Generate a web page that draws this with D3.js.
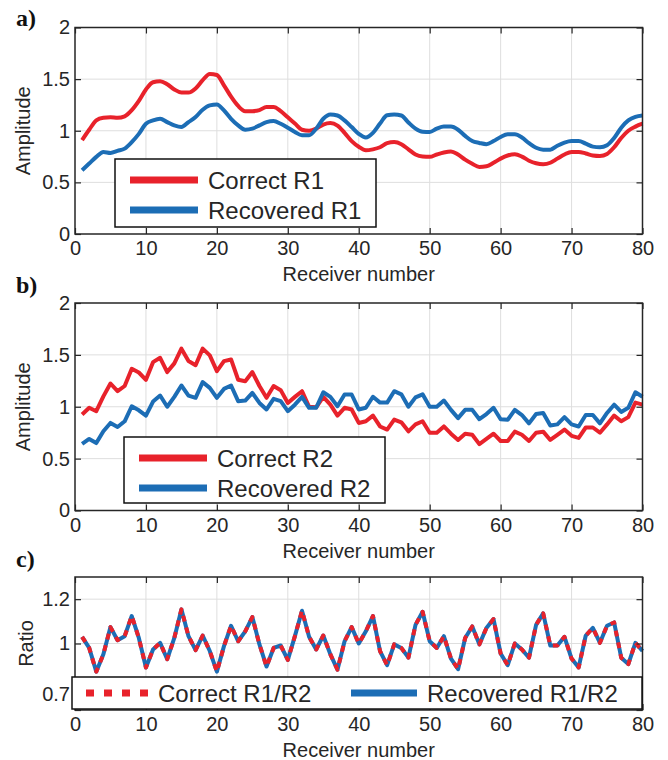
<!DOCTYPE html>
<html>
<head>
<meta charset="utf-8">
<script src="https://cdn.jsdelivr.net/npm/d3@7"></script>
<style>
  body { margin: 0; background: #fff; }
  text { font-family: "Liberation Sans", Arial, Helvetica, sans-serif; fill: #262626; }
  .plabel { font-family: "Liberation Serif", "Times New Roman", serif; font-weight: bold; fill: #111; }
</style>
</head>
<body>
<div id="chart"></div>
<script>
// receiver numbers (x axis)
const receivers = d3.range(1, 81);

// panel a) amplitude R1
const correctR1 = [
  0.91, 1.01, 1.10, 1.125, 1.13, 1.125, 1.14, 1.20, 1.29, 1.40,
  1.47, 1.48, 1.45, 1.40, 1.37, 1.37, 1.41, 1.49, 1.55, 1.54,
  1.44, 1.33, 1.24, 1.19, 1.19, 1.20, 1.23, 1.23, 1.19, 1.13,
  1.07, 1.01, 1.00, 1.02, 1.06, 1.075, 1.05, 0.98, 0.90, 0.845,
  0.81, 0.82, 0.84, 0.88, 0.89, 0.87, 0.82, 0.77, 0.75, 0.747,
  0.77, 0.79, 0.80, 0.77, 0.72, 0.68, 0.65, 0.656, 0.69, 0.73,
  0.76, 0.772, 0.75, 0.71, 0.685, 0.676, 0.69, 0.73, 0.77, 0.795,
  0.795, 0.78, 0.76, 0.755, 0.775, 0.84, 0.93, 1.00, 1.04, 1.068
];
const recoveredR1 = [
  0.618, 0.682, 0.747, 0.795, 0.785, 0.805, 0.827, 0.89, 0.97, 1.068,
  1.10, 1.116, 1.084, 1.052, 1.036, 1.084, 1.133, 1.204, 1.246, 1.255,
  1.197, 1.116, 1.052, 1.01, 1.02, 1.052, 1.084, 1.094, 1.068, 1.03,
  0.988, 0.956, 0.956, 1.02, 1.116, 1.158, 1.148, 1.10, 1.036, 0.97,
  0.935, 0.98, 1.07, 1.15, 1.158, 1.148, 1.08, 1.02, 0.99, 0.988,
  1.02, 1.04, 1.04, 1.01, 0.95, 0.90, 0.882, 0.87, 0.90, 0.94,
  0.965, 0.965, 0.935, 0.88, 0.835, 0.817, 0.817, 0.855, 0.885, 0.90,
  0.90, 0.875, 0.846, 0.84, 0.86, 0.93, 1.03, 1.10, 1.135, 1.148
];

// panel b) amplitude R2
const correctR2 = [
  0.925, 0.99, 0.957, 1.10, 1.224, 1.15, 1.20, 1.366, 1.33, 1.26,
  1.43, 1.472, 1.334, 1.418, 1.56, 1.44, 1.40, 1.56, 1.495, 1.343,
  1.44, 1.456, 1.26, 1.246, 1.334, 1.20, 1.086, 1.20, 1.16, 1.037,
  1.095, 1.15, 1.00, 0.995, 1.095, 1.02, 0.915, 0.99, 0.974, 0.844,
  0.86, 0.915, 0.81, 0.78, 0.876, 0.85, 0.763, 0.83, 0.86, 0.75,
  0.75, 0.81, 0.74, 0.68, 0.74, 0.73, 0.64, 0.69, 0.74, 0.67,
  0.67, 0.76, 0.73, 0.67, 0.75, 0.76, 0.68, 0.73, 0.78, 0.72,
  0.70, 0.80, 0.80, 0.75, 0.83, 0.915, 0.86, 0.90, 1.04, 1.02
];
const recoveredR2 = [
  0.641, 0.69, 0.65, 0.764, 0.844, 0.805, 0.86, 1.005, 0.966, 0.915,
  1.05, 1.108, 1.00, 1.095, 1.205, 1.108, 1.086, 1.237, 1.182, 1.086,
  1.172, 1.205, 1.054, 1.06, 1.134, 1.037, 0.974, 1.076, 1.054, 0.957,
  1.02, 1.095, 0.99, 0.99, 1.14, 1.095, 1.005, 1.118, 1.118, 0.974,
  0.99, 1.096, 1.04, 1.04, 1.15, 1.12, 1.00, 1.09, 1.12, 1.00,
  1.00, 1.06, 0.97, 0.89, 0.97, 0.97, 0.88, 0.93, 0.99, 0.88,
  0.875, 0.97, 0.92, 0.84, 0.93, 0.94, 0.82, 0.83, 0.90, 0.83,
  0.81, 0.92, 0.92, 0.84, 0.94, 1.02, 0.95, 0.99, 1.14, 1.096
];

// panel c) ratio R1/R2
const correctRatio = [
  1.03, 0.98, 0.873, 0.951, 1.074, 1.015, 1.033, 1.124, 1.025, 0.892,
  0.973, 1.003, 0.929, 1.025, 1.154, 1.033, 0.97, 1.036, 0.966, 0.873,
  0.988, 1.08, 1.01, 1.055, 1.119, 0.996, 0.896, 0.98, 0.991, 0.926,
  1.033, 1.148, 1.03, 0.973, 1.036, 0.951, 0.882, 1.01, 1.074, 1.00,
  1.055, 1.124, 0.966, 0.902, 0.996, 0.98, 0.936, 1.084, 1.143, 1.01,
  0.98, 1.033, 0.932, 0.884, 1.025, 1.077, 0.996, 1.07, 1.11, 0.955,
  0.902, 1.00, 0.973, 0.936, 1.084, 1.136, 0.991, 0.991, 1.03, 0.932,
  0.892, 1.036, 1.07, 1.003, 1.08, 1.095, 0.936, 0.907, 1.003, 0.966
];
const recoveredRatio = [
  1.03, 0.98, 0.873, 0.951, 1.074, 1.015, 1.033, 1.124, 1.025, 0.892,
  0.973, 1.003, 0.929, 1.025, 1.154, 1.033, 0.97, 1.036, 0.966, 0.873,
  0.988, 1.08, 1.01, 1.055, 1.119, 0.996, 0.896, 0.98, 0.991, 0.926,
  1.033, 1.148, 1.03, 0.973, 1.036, 0.951, 0.882, 1.01, 1.074, 1.00,
  1.055, 1.124, 0.966, 0.902, 0.996, 0.98, 0.936, 1.084, 1.143, 1.01,
  0.98, 1.033, 0.932, 0.884, 1.025, 1.077, 0.996, 1.07, 1.11, 0.955,
  0.902, 1.00, 0.973, 0.936, 1.084, 1.136, 0.991, 0.991, 1.03, 0.932,
  0.892, 1.036, 1.07, 1.003, 1.08, 1.095, 0.936, 0.907, 1.003, 0.966
];

const xTicks = [0, 10, 20, 30, 40, 50, 60, 70, 80];
const ampTicks = [0, 0.5, 1, 1.5, 2];
const ratioTicks = [0.7, 1, 1.2];

const RED = "#e8222b";
const BLUE = "#1c6db5";

const width = 668, height = 760;
const svg = d3.select("#chart").append("svg")
  .attr("width", width).attr("height", height);

const x = d3.scaleLinear().domain([0, 80]).range([75, 642.5]);

function drawPanel(p) {
  const y = d3.scaleLinear().domain(p.yDomain).range([p.bottom, p.top]);
  const g = svg.append("g");

  // grid
  g.append("g").selectAll("line")
    .data(xTicks.slice(1, -1)).enter().append("line")
    .attr("x1", d => x(d)).attr("x2", d => x(d))
    .attr("y1", p.top).attr("y2", p.bottom)
    .attr("stroke", "#dedede").attr("stroke-width", 1);
  g.append("g").selectAll("line")
    .data(p.yTicks.filter(d => d > p.yDomain[0] && d < p.yDomain[1])).enter().append("line")
    .attr("x1", x(0)).attr("x2", x(80))
    .attr("y1", d => y(d)).attr("y2", d => y(d))
    .attr("stroke", "#dedede").attr("stroke-width", 1);

  // series
  p.series.forEach(s => {
    const line = d3.line()
      .x((d, i) => x(receivers[i]))
      .y(d => y(d))
      .curve(p.curve);
    g.append("path")
      .datum(s.values)
      .attr("d", line)
      .attr("fill", "none")
      .attr("stroke", s.color)
      .attr("stroke-width", 4)
      .attr("stroke-linejoin", "round")
      .attr("stroke-dasharray", s.dash || null);
  });

  // axes, ticks inward on all sides
  const ax = g.append("g").attr("transform", `translate(0,${p.bottom})`)
    .call(d3.axisBottom(x).tickValues(xTicks).tickSize(-6).tickSizeOuter(0).tickPadding(7).tickFormat(d => d));
  g.append("g").attr("transform", `translate(0,${p.top})`)
    .call(d3.axisTop(x).tickValues(xTicks).tickSize(-6).tickSizeOuter(0).tickFormat(""));
  const ay = g.append("g").attr("transform", `translate(${x(0)},0)`)
    .call(d3.axisLeft(y).tickValues(p.yTicks).tickSize(-6).tickSizeOuter(0).tickPadding(5).tickFormat(d => d));
  g.append("g").attr("transform", `translate(${x(80)},0)`)
    .call(d3.axisRight(y).tickValues(p.yTicks).tickSize(-6).tickSizeOuter(0).tickFormat(""));
  g.selectAll(".domain").remove();
  g.selectAll(".tick line").attr("stroke", "#262626").attr("stroke-width", 1.2);
  g.selectAll(".tick text").attr("font-size", 20).attr("fill", "#262626")
    .style("font-family", "'Liberation Sans', Arial, sans-serif");
  if (p.shiftLow) {
    ay.selectAll(".tick text").filter(d => d === p.yDomain[0]).attr("dy", "-0.5em");
  }

  g.append("rect")
    .attr("x", x(0)).attr("y", p.top)
    .attr("width", x(80) - x(0)).attr("height", p.bottom - p.top)
    .attr("fill", "none").attr("stroke", "#262626").attr("stroke-width", 1.5);

  // titles
  g.append("text")
    .attr("x", (x(0) + x(80)) / 2).attr("y", p.bottom + 40)
    .attr("text-anchor", "middle").attr("dominant-baseline", "central")
    .attr("font-size", 20).text("Receiver number");
  g.append("text")
    .attr("transform", `translate(${p.yTitleX},${(p.top + p.bottom) / 2}) rotate(-90)`)
    .attr("text-anchor", "middle").attr("dominant-baseline", "central")
    .attr("font-size", 20).text(p.yTitle);
  g.append("text").attr("class", "plabel")
    .attr("x", 16).attr("y", p.labelY)
    .attr("font-size", 24).text(p.label);

  // legend
  const L = p.legend;
  const lg = g.append("g");
  lg.append("rect")
    .attr("x", L.x).attr("y", L.y).attr("width", L.w).attr("height", L.h)
    .attr("fill", "#fff").attr("stroke", "#111").attr("stroke-width", 1.5);
  L.items.forEach(it => {
    const s = p.series.find(d => d.name === it.name);
    lg.append("line")
      .attr("x1", it.x).attr("x2", it.x + it.len)
      .attr("y1", it.y).attr("y2", it.y)
      .attr("stroke", s.color).attr("stroke-width", 7)
      .attr("stroke-dasharray", it.dash || null);
    lg.append("text")
      .attr("x", it.x + it.len + 10).attr("y", it.y)
      .attr("dominant-baseline", "central")
      .attr("font-size", 24).attr("fill", "#222").text(s.name);
  });
}

const panels = [
  {
    label: "a)", labelY: 26, top: 27.5, bottom: 234, yDomain: [0, 2], yTicks: ampTicks,
    yTitle: "Amplitude", yTitleX: 23, curve: d3.curveMonotoneX,
    series: [
      { name: "Correct R1", values: correctR1, color: RED },
      { name: "Recovered R1", values: recoveredR1, color: BLUE }
    ],
    legend: { x: 115, y: 159, w: 261, h: 68, items: [
      { name: "Correct R1", x: 130, y: 180, len: 68 },
      { name: "Recovered R1", x: 130, y: 210, len: 68 }
    ] }
  },
  {
    label: "b)", labelY: 293, top: 303, bottom: 510.5, yDomain: [0, 2], yTicks: ampTicks,
    yTitle: "Amplitude", yTitleX: 23, curve: d3.curveLinear,
    series: [
      { name: "Correct R2", values: correctR2, color: RED },
      { name: "Recovered R2", values: recoveredR2, color: BLUE }
    ],
    legend: { x: 124, y: 437, w: 261, h: 66, items: [
      { name: "Correct R2", x: 139, y: 458, len: 68 },
      { name: "Recovered R2", x: 139, y: 488, len: 68 }
    ] }
  },
  {
    label: "c)", labelY: 567, top: 577, bottom: 710, yDomain: [0.7, 1.3], yTicks: ratioTicks,
    yTitle: "Ratio", yTitleX: 26, curve: d3.curveLinear, shiftLow: true,
    series: [
      { name: "Recovered R1/R2", values: recoveredRatio, color: BLUE },
      { name: "Correct R1/R2", values: correctRatio, color: RED, dash: "6,6" }
    ],
    legend: { x: 72, y: 677, w: 570, h: 32, items: [
      { name: "Correct R1/R2", x: 86, y: 693, len: 62, dash: "8,10" },
      { name: "Recovered R1/R2", x: 351, y: 693, len: 66 }
    ] }
  }
];

panels.forEach(drawPanel);
</script>
</body>
</html>
